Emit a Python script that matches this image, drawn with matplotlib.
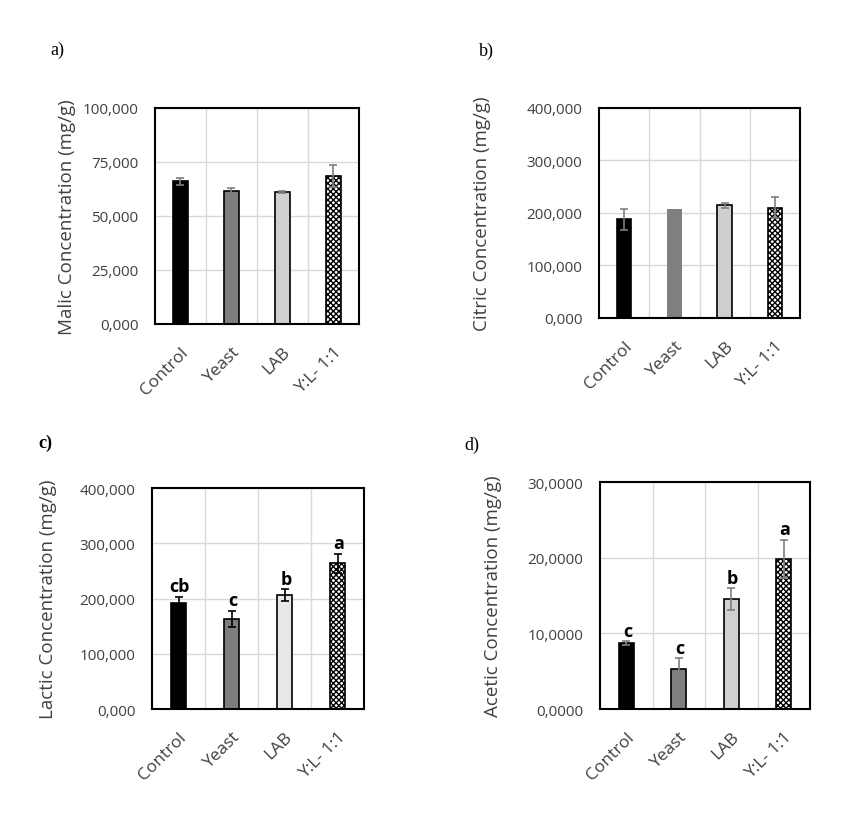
import numpy as np
import matplotlib.pyplot as plt
from matplotlib.ticker import FuncFormatter

plt.rcParams['font.family'] = ['Open Sans', 'DejaVu Sans']
plt.rcParams['hatch.linewidth'] = 1.0

categories = ['Control', 'Yeast', 'LAB', 'Y:L- 1:1']

malic = [66.0, 61.7, 61.2, 68.3]
malic_err = [1.8, 1.2, 0.4, 5.1]

citric = [188.0, 207.5, 214.5, 209.5]
citric_err = [20.0, 0.0, 4.5, 20.0]

lactic = [192.0, 163.0, 206.5, 264.0]
lactic_err = [11.5, 15.0, 10.5, 17.5]
lactic_letters = ['cb', 'c', 'b', 'a']

acetic = [8.75, 5.32, 14.55, 19.85]
acetic_err = [0.25, 1.37, 1.45, 2.55]
acetic_letters = ['c', 'c', 'b', 'a']


def k_fmt(v, pos):
    # values in thousands -> "100,000"
    return '{:.3f}'.format(v).replace('.', ',')


def d_fmt(v, pos):
    return '{:.4f}'.format(v).replace('.', ',')


def draw(ax, vals, errs, ymax, step, lab_color, err_color, ylabel, fmt,
         label_x, yeast_edge=True, letters=None):
    x = np.arange(len(categories))
    colors = ['black', '#7f7f7f', lab_color, 'white']
    ax.set_axisbelow(True)
    for i in range(len(categories)):
        ec = 'black'
        lw = 1.2
        if i == 1 and not yeast_edge:
            ec = '#7f7f7f'
            lw = 0
        hatch = 'xxxxxx' if i == 3 else None
        ax.bar(x[i], vals[i], width=0.29, color=colors[i], edgecolor=ec,
               linewidth=lw, hatch=hatch, zorder=2)
        if errs[i] > 0:
            ax.errorbar(x[i], vals[i], yerr=errs[i], fmt='none',
                        ecolor=err_color, elinewidth=1.2, capsize=3.2,
                        capthick=1.2, zorder=3)
    if letters is not None:
        for i, t in enumerate(letters):
            ax.annotate(t, (x[i], vals[i] + errs[i]), xytext=(1, 1),
                        textcoords='offset points', ha='center', va='bottom',
                        fontsize=13, fontweight='bold', color='black')
    ax.set_xlim(-0.5, len(categories) - 0.5)
    ax.set_ylim(0, ymax)
    ax.set_yticks(np.arange(0, ymax + step / 2, step))
    ax.yaxis.set_major_formatter(FuncFormatter(fmt))
    ax.set_xticks(x)
    ax.set_xticks(x[:-1] + 0.5, minor=True)
    ax.set_xticklabels(categories, rotation=45, ha='right',
                       rotation_mode='anchor', fontsize=12.5, color='#404040')
    ax.tick_params(axis='y', labelsize=11, labelcolor='#404040', length=0, pad=12)
    ax.tick_params(axis='x', which='both', length=0, pad=14)
    ax.grid(True, axis='y', color='#d9d9d9', linewidth=1)
    ax.grid(True, axis='x', which='minor', color='#d9d9d9', linewidth=1)
    for s in ax.spines.values():
        s.set_linewidth(1.5)
        s.set_color('black')
    ax.set_ylabel(ylabel, fontsize=13.5, color='#404040', va='center')
    ax.yaxis.set_label_coords(label_x, 0.5)


fig = plt.figure(figsize=(8.45, 8.2), dpi=100)

ax_a = fig.add_axes([0.1834, 0.6037, 0.2414, 0.2634])
draw(ax_a, malic, malic_err, 100, 25, '#d0d0d0', '#7f7f7f',
     'Malic Concentration (mg/g)', k_fmt, -0.433)

ax_b = fig.add_axes([0.7089, 0.611, 0.2379, 0.2561])
draw(ax_b, citric, citric_err, 400, 100, '#cfcfcf', '#7f7f7f',
     'Citric Concentration (mg/g)', k_fmt, -0.582, yeast_edge=False)

ax_c = fig.add_axes([0.1799, 0.1341, 0.2509, 0.2695])
draw(ax_c, lactic, lactic_err, 400, 100, '#e8e8e8', 'black',
     'Lactic Concentration (mg/g)', k_fmt, -0.49, letters=lactic_letters)

ax_d = fig.add_axes([0.7101, 0.1341, 0.2485, 0.2768])
draw(ax_d, acetic, acetic_err, 30, 10, '#d0d0d0', '#7f7f7f',
     'Acetic Concentration (mg/g)', d_fmt, -0.51, letters=acetic_letters)

serif = ['Liberation Serif', 'DejaVu Serif']
fig.text(57 / 845, 1 - 50 / 820, 'a)', ha='center', va='center', fontsize=13, family=serif)
fig.text(486 / 845, 1 - 51 / 820, 'b)', ha='center', va='center', fontsize=13, family=serif)
fig.text(45 / 845, 1 - 443 / 820, 'c)', ha='center', va='center', fontsize=13,
         fontweight='bold', family=serif)
fig.text(472 / 845, 1 - 445 / 820, 'd)', ha='center', va='center', fontsize=13, family=serif)

fig.savefig('out.png', dpi=100, facecolor='white')
